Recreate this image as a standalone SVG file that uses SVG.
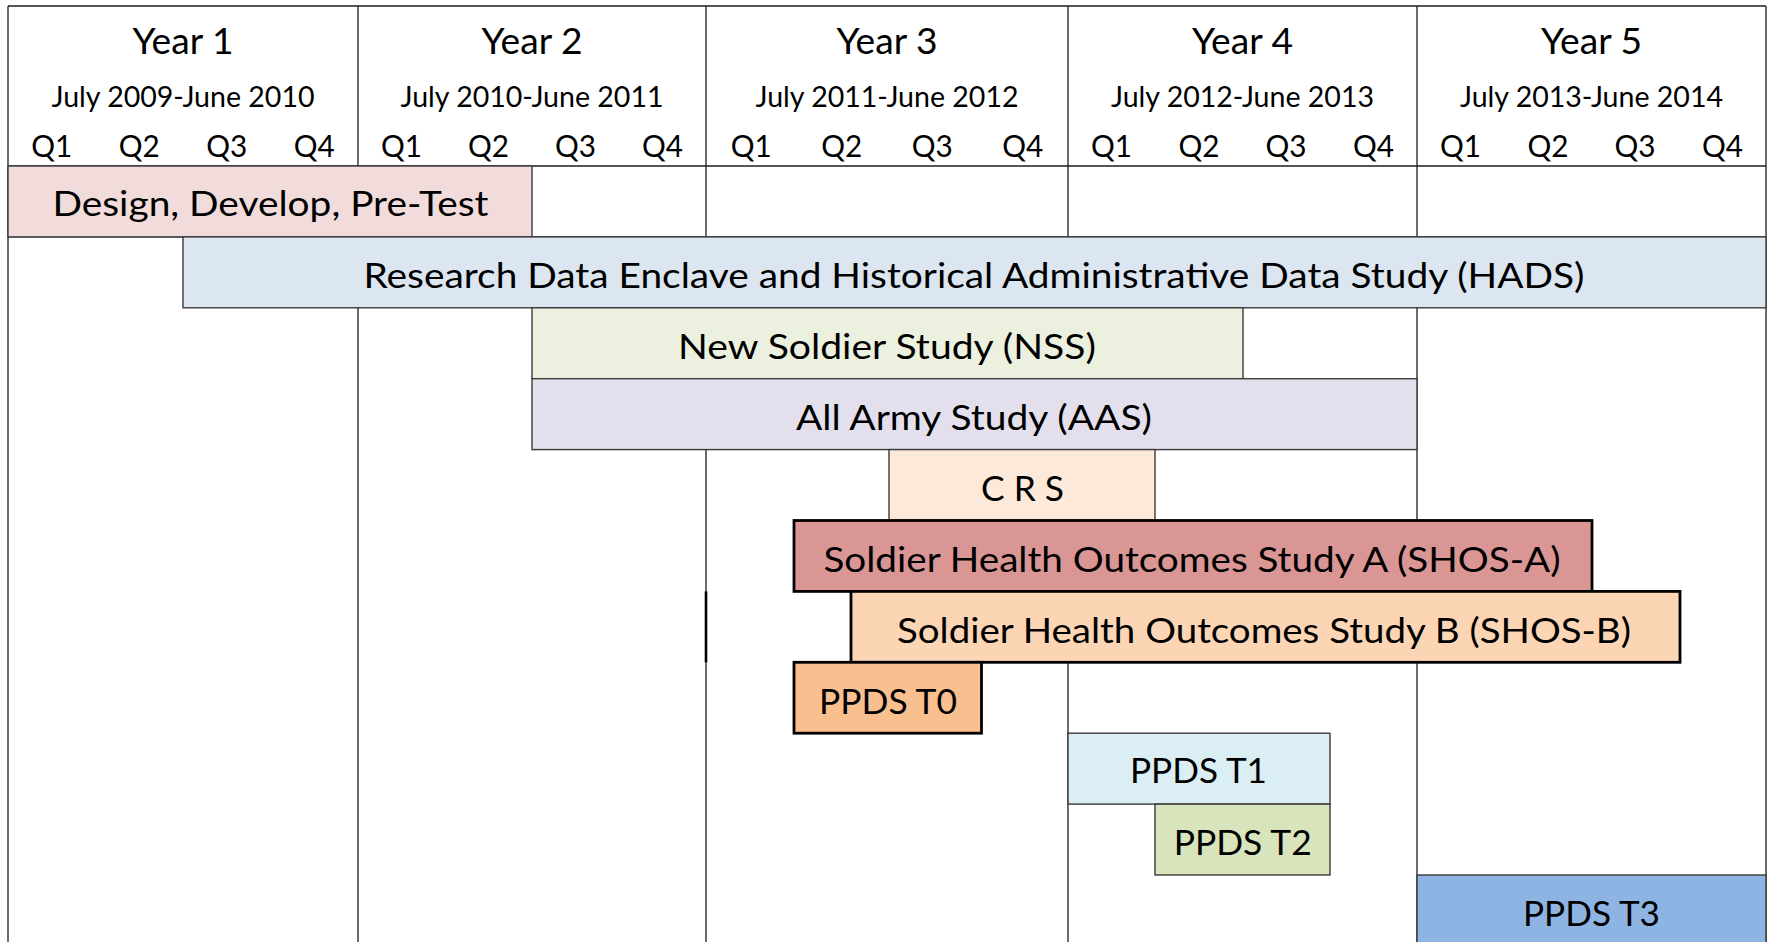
<svg xmlns="http://www.w3.org/2000/svg" width="1770" height="942" viewBox="0 0 1770 942">
<style>
text{font-family:Lato,"Liberation Sans","DejaVu Sans",sans-serif;fill:#000;text-anchor:middle}
.yr{font-size:36px}
.dt{font-size:29px}
.q{font-size:30px}
.lbl{font-size:35px}
#grid line{stroke:#1e1e1e;stroke-width:1.3}
.thin{stroke:#3a3a3a;stroke-width:1.4}
.thick{stroke:#000;stroke-width:2.8}
</style>
<rect x="0" y="0" width="1770" height="942" fill="#fff"/>
<g id="grid">
<line x1="8" y1="6" x2="1766" y2="6"/>
<line x1="8" y1="166" x2="1766" y2="166"/>
<line x1="8" y1="236.9" x2="1766" y2="236.9"/>
<line x1="8" y1="6" x2="8" y2="942"/>
<line x1="358" y1="6" x2="358" y2="942"/>
<line x1="706" y1="6" x2="706" y2="942"/>
<line x1="1068" y1="6" x2="1068" y2="942"/>
<line x1="1417" y1="6" x2="1417" y2="942"/>
<line x1="1766" y1="6" x2="1766" y2="942"/>
<line x1="706" y1="591.4" x2="706" y2="662.3" style="stroke-width:2.6;stroke:#000"/>
</g>
<g id="header">
<text class="yr" x="183" y="54" textLength="101" lengthAdjust="spacingAndGlyphs">Year 1</text>
<text class="yr" x="532" y="54" textLength="101" lengthAdjust="spacingAndGlyphs">Year 2</text>
<text class="yr" x="887" y="54" textLength="101" lengthAdjust="spacingAndGlyphs">Year 3</text>
<text class="yr" x="1242.5" y="54" textLength="101" lengthAdjust="spacingAndGlyphs">Year 4</text>
<text class="yr" x="1591.5" y="54" textLength="101" lengthAdjust="spacingAndGlyphs">Year 5</text>
<text class="dt" x="183" y="107" textLength="263" lengthAdjust="spacingAndGlyphs">July 2009-June 2010</text>
<text class="dt" x="532" y="107" textLength="263" lengthAdjust="spacingAndGlyphs">July 2010-June 2011</text>
<text class="dt" x="887" y="107" textLength="263" lengthAdjust="spacingAndGlyphs">July 2011-June 2012</text>
<text class="dt" x="1242.5" y="107" textLength="263" lengthAdjust="spacingAndGlyphs">July 2012-June 2013</text>
<text class="dt" x="1591.5" y="107" textLength="263" lengthAdjust="spacingAndGlyphs">July 2013-June 2014</text>
<g class="q">
<text x="51.8" y="157" textLength="41" lengthAdjust="spacingAndGlyphs">Q1</text>
<text x="139.3" y="157" textLength="41" lengthAdjust="spacingAndGlyphs">Q2</text>
<text x="226.8" y="157" textLength="41" lengthAdjust="spacingAndGlyphs">Q3</text>
<text x="314.3" y="157" textLength="41" lengthAdjust="spacingAndGlyphs">Q4</text>
<text x="401.5" y="157" textLength="41" lengthAdjust="spacingAndGlyphs">Q1</text>
<text x="488.5" y="157" textLength="41" lengthAdjust="spacingAndGlyphs">Q2</text>
<text x="575.5" y="157" textLength="41" lengthAdjust="spacingAndGlyphs">Q3</text>
<text x="662.5" y="157" textLength="41" lengthAdjust="spacingAndGlyphs">Q4</text>
<text x="751.3" y="157" textLength="41" lengthAdjust="spacingAndGlyphs">Q1</text>
<text x="841.8" y="157" textLength="41" lengthAdjust="spacingAndGlyphs">Q2</text>
<text x="932.3" y="157" textLength="41" lengthAdjust="spacingAndGlyphs">Q3</text>
<text x="1022.8" y="157" textLength="41" lengthAdjust="spacingAndGlyphs">Q4</text>
<text x="1111.6" y="157" textLength="41" lengthAdjust="spacingAndGlyphs">Q1</text>
<text x="1198.9" y="157" textLength="41" lengthAdjust="spacingAndGlyphs">Q2</text>
<text x="1286.1" y="157" textLength="41" lengthAdjust="spacingAndGlyphs">Q3</text>
<text x="1373.4" y="157" textLength="41" lengthAdjust="spacingAndGlyphs">Q4</text>
<text x="1460.6" y="157" textLength="41" lengthAdjust="spacingAndGlyphs">Q1</text>
<text x="1547.9" y="157" textLength="41" lengthAdjust="spacingAndGlyphs">Q2</text>
<text x="1635.1" y="157" textLength="41" lengthAdjust="spacingAndGlyphs">Q3</text>
<text x="1722.4" y="157" textLength="41" lengthAdjust="spacingAndGlyphs">Q4</text>
</g>
</g>
<g id="design">
<rect class="thin" x="8" y="166" width="524" height="70.9" fill="#F2DCDB"/>
<text class="lbl" x="270.5" y="216" textLength="436" lengthAdjust="spacingAndGlyphs">Design, Develop, Pre-Test</text>
</g>
<g id="hads">
<rect class="thin" x="183" y="236.9" width="1583" height="70.9" fill="#DCE6F1"/>
<text class="lbl" x="974" y="287.5" textLength="1221" lengthAdjust="spacingAndGlyphs">Research Data Enclave and Historical Administrative Data Study (HADS)</text>
</g>
<g id="nss">
<rect class="thin" x="532" y="307.8" width="711" height="70.9" fill="#EBF1DE"/>
<text class="lbl" x="887" y="359" textLength="418" lengthAdjust="spacingAndGlyphs">New Soldier Study (NSS)</text>
</g>
<g id="aas">
<rect class="thin" x="532" y="378.7" width="885" height="70.9" fill="#E4DFEC"/>
<text class="lbl" x="974" y="430" textLength="356" lengthAdjust="spacingAndGlyphs">All Army Study (AAS)</text>
</g>
<g id="crs">
<rect class="thin" x="889" y="449.6" width="266" height="70.9" fill="#FDE9D9"/>
<text class="lbl" x="1022.5" y="501" textLength="83" lengthAdjust="spacingAndGlyphs">C R S</text>
</g>
<g id="shos-a">
<rect class="thick" x="794" y="520.5" width="798" height="70.9" fill="#DA9694"/>
<text class="lbl" x="1192" y="571.7" textLength="737" lengthAdjust="spacingAndGlyphs">Soldier Health Outcomes Study A (SHOS-A)</text>
</g>
<g id="shos-b">
<rect class="thick" x="851" y="591.4" width="829" height="70.9" fill="#FCD5B4"/>
<text class="lbl" x="1264" y="642.7" textLength="734" lengthAdjust="spacingAndGlyphs">Soldier Health Outcomes Study B (SHOS-B)</text>
</g>
<g id="ppds-t0">
<rect class="thick" x="794" y="662.3" width="187.5" height="70.9" fill="#FABF8F"/>
<text class="lbl" x="888" y="713.5" textLength="138" lengthAdjust="spacingAndGlyphs">PPDS T0</text>
</g>
<g id="ppds-t1">
<rect class="thin" x="1068" y="733.2" width="262" height="70.9" fill="#DAEEF3"/>
<text class="lbl" x="1198.5" y="783" textLength="137" lengthAdjust="spacingAndGlyphs">PPDS T1</text>
</g>
<g id="ppds-t2">
<rect class="thin" x="1155" y="804.1" width="175" height="70.9" fill="#D8E4BC"/>
<text class="lbl" x="1242.7" y="854.5" textLength="138" lengthAdjust="spacingAndGlyphs">PPDS T2</text>
</g>
<g id="ppds-t3">
<rect class="thin" x="1417" y="875" width="349" height="71" fill="#8DB4E2"/>
<text class="lbl" x="1591.5" y="925.5" textLength="137" lengthAdjust="spacingAndGlyphs">PPDS T3</text>
</g>
</svg>
